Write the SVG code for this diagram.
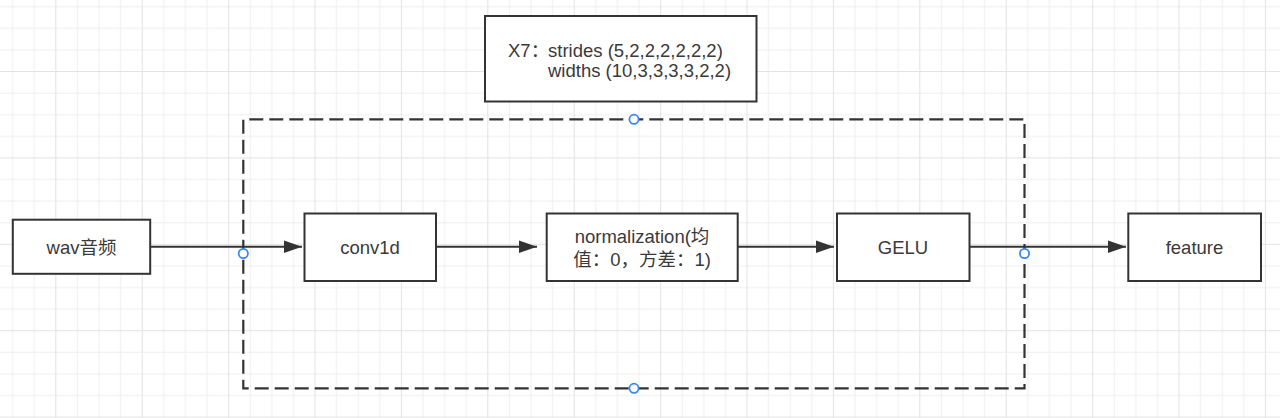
<svg xmlns="http://www.w3.org/2000/svg" width="1280" height="418" viewBox="0 0 1280 418">
  <defs>
    <pattern id="grid" x="55.3" y="71" width="86.4" height="86.4" patternUnits="userSpaceOnUse">
      <rect x="0" y="0" width="86.4" height="86.4" fill="#ffffff"/>
      <g fill="#efefef">
        <rect x="21.6" y="0" width="1" height="86.4"/>
        <rect x="43.2" y="0" width="1" height="86.4"/>
        <rect x="64.8" y="0" width="1" height="86.4"/>
        <rect x="0" y="21.6" width="86.4" height="1"/>
        <rect x="0" y="43.2" width="86.4" height="1"/>
        <rect x="0" y="64.8" width="86.4" height="1"/>
      </g>
      <g fill="#e3e3e3">
        <rect x="0" y="0" width="1" height="86.4"/>
        <rect x="0" y="0" width="86.4" height="1"/>
      </g>
    </pattern>
    <marker id="arrow" markerUnits="userSpaceOnUse" markerWidth="20" markerHeight="14" refX="18" refY="7" orient="auto">
      <path d="M0,0.7 L18,7 L0,13.3 Z" fill="#333333"/>
    </marker>
    <style>
      .box { fill: #ffffff; stroke: #333333; stroke-width: 2; }
      .lbl { font-family: "Liberation Sans", "Noto Sans CJK SC", sans-serif; font-size: 18.5px; fill: #3a3a3a; }
      .mid { text-anchor: middle; }
      .conn { stroke: #333333; stroke-width: 2; fill: none; }
      .handle { fill: #ffffff; stroke: #3b87f5; stroke-width: 1.8; }
    </style>
  </defs>

  <rect x="0" y="0" width="1280" height="418" fill="url(#grid)"/>

  <g id="container">
    <rect x="243.3" y="119.3" width="781.2" height="269" fill="none" stroke="#333333" stroke-width="2.2" stroke-dasharray="14 6" stroke-dashoffset="-6"/>
  </g>

  <g id="params">
    <rect class="box" x="485" y="16" width="271.5" height="85.5"/>
    <text class="lbl" x="508" y="56.5">X7：<tspan x="548">strides (5,2,2,2,2,2,2)</tspan></text>
    <text class="lbl" x="548" y="76.5">widths (10,3,3,3,3,2,2)</text>
  </g>

  <g id="connectors">
    <line class="conn" x1="151" y1="246.7" x2="302" y2="246.7" marker-end="url(#arrow)"/>
    <line class="conn" x1="436" y1="246.7" x2="537" y2="246.7" marker-end="url(#arrow)"/>
    <line class="conn" x1="738" y1="246.7" x2="834" y2="246.7" marker-end="url(#arrow)"/>
    <line class="conn" x1="970" y1="246.7" x2="1126" y2="246.7" marker-end="url(#arrow)"/>
  </g>

  <g id="wav">
    <rect class="box" x="12.8" y="219.7" width="137.4" height="54.1"/>
    <text class="lbl mid" x="81.5" y="253.5">wav音频</text>
  </g>

  <g id="conv1d">
    <rect class="box" x="304.5" y="213.5" width="131.5" height="67.5"/>
    <text class="lbl mid" x="370" y="253.5">conv1d</text>
  </g>

  <g id="normalization">
    <rect class="box" x="546.7" y="213.5" width="191" height="67.5"/>
    <text class="lbl mid" x="642" y="242.7">normalization(均</text>
    <text class="lbl mid" x="642" y="265.7">值：0，方差：1)</text>
  </g>

  <g id="gelu">
    <rect class="box" x="837" y="213.5" width="132.5" height="67.5"/>
    <text class="lbl mid" x="903" y="253.5">GELU</text>
  </g>

  <g id="feature">
    <rect class="box" x="1128.3" y="213.5" width="132.7" height="67.5"/>
    <text class="lbl mid" x="1194.5" y="253.5">feature</text>
  </g>

  <g id="handles">
    <circle class="handle" cx="243.3" cy="253.5" r="4.6"/>
    <circle class="handle" cx="1024.5" cy="253.5" r="4.6"/>
    <circle class="handle" cx="634" cy="119.3" r="4.6"/>
    <circle class="handle" cx="634" cy="388.3" r="4.6"/>
  </g>
</svg>
